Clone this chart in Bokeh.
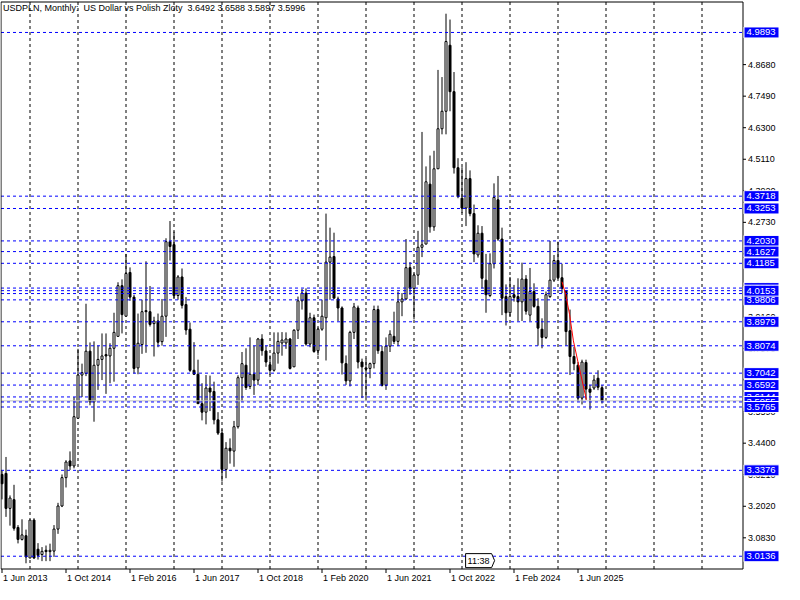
import pandas as pd
from bokeh.plotting import figure
from bokeh.models import ColumnDataSource, Range1d
from bokeh.core.properties import value
from bokeh.embed import file_html
from bokeh.resources import INLINE

symbol_title = "USDPLN, Monthly:\u00a0 US Dollar vs Polish Zloty"
first_month = "2013-06-01"
timer_text = "11:38"

opens = [3.322, 3.326, 3.194, 3.227, 3.122, 3.077, 3.091, 3.007, 3.150, 3.040,
         3.020, 3.036, 3.031, 3.033, 3.116, 3.203, 3.310, 3.373, 3.354, 3.534,
         3.697, 3.703, 3.787, 3.596, 3.734, 3.756, 3.774, 3.769, 3.798, 3.843,
         4.034, 3.919, 4.084, 3.991, 3.724, 3.812, 3.940, 3.936, 3.891, 3.901,
         3.823, 3.919, 4.200, 4.189, 3.997, 4.067, 3.963, 3.870, 3.715, 3.700,
         3.589, 3.557, 3.648, 3.635, 3.528, 3.478, 3.341, 3.421, 3.410, 3.502,
         3.687, 3.734, 3.654, 3.700, 3.678, 3.833, 3.788, 3.736, 3.715, 3.780,
         3.818, 3.818, 3.833, 3.728, 3.866, 3.977, 4.006, 3.814, 3.913, 3.789,
         3.870, 3.913, 4.123, 4.144, 3.984, 3.950, 3.740, 3.675, 3.858, 3.950,
         3.746, 3.724, 3.722, 3.740, 3.944, 3.786, 3.658, 3.806, 3.843, 3.824,
         3.973, 3.984, 4.102, 4.024, 4.074, 4.179, 4.191, 4.417, 4.256, 4.475,
         4.626, 4.692, 4.941, 4.766, 4.479, 4.364, 4.327, 4.438, 4.306, 4.150,
         4.232, 4.055, 3.997, 4.117, 4.358, 4.210, 3.993, 3.932, 4.000, 3.993,
         3.973, 4.059, 3.923, 4.012, 3.956, 3.870, 3.839, 3.993, 4.055, 4.129,
         4.064, 4.014, 3.864, 3.767, 3.734, 3.610, 3.744, 3.644, 3.648, 3.685,
         3.6492]
highs = [3.336, 3.388, 3.243, 3.283, 3.131, 3.153, 3.114, 3.150, 3.157, 3.063,
         3.048, 3.054, 3.061, 3.131, 3.215, 3.322, 3.376, 3.409, 3.614, 3.796,
         3.740, 3.966, 3.820, 3.824, 3.808, 3.854, 3.854, 3.817, 3.932, 4.047,
         4.058, 4.154, 4.103, 4.000, 3.929, 3.981, 4.126, 4.033, 3.917, 3.929,
         3.984, 4.213, 4.278, 4.238, 4.074, 4.099, 3.991, 3.895, 3.821, 3.755,
         3.666, 3.697, 3.695, 3.672, 3.557, 3.492, 3.444, 3.458, 3.524, 3.696,
         3.784, 3.798, 3.839, 3.807, 3.837, 3.851, 3.808, 3.771, 3.858, 3.858,
         3.859, 3.858, 3.837, 3.870, 3.993, 4.022, 4.024, 3.932, 3.925, 3.876,
         3.981, 4.306, 4.253, 4.234, 3.993, 3.956, 3.771, 3.864, 3.969, 3.959,
         3.759, 3.759, 3.744, 3.959, 3.959, 3.807, 3.839, 3.866, 3.936, 4.012,
         4.006, 4.210, 4.123, 4.080, 4.241, 4.614, 4.484, 4.525, 4.543, 4.848,
         4.821, 5.060, 5.038, 4.840, 4.515, 4.481, 4.500, 4.469, 4.340, 4.262,
         4.259, 4.154, 4.156, 4.420, 4.448, 4.253, 4.039, 4.067, 4.037, 4.062,
         4.121, 4.074, 4.101, 4.043, 3.987, 3.911, 4.012, 4.203, 4.150, 4.200,
         4.117, 4.018, 3.944, 3.803, 3.746, 3.755, 3.755, 3.660, 3.697, 3.715,
         3.6588]
lows = [3.228, 3.162, 3.129, 3.110, 3.062, 3.073, 2.987, 3.006, 3.003, 3.001,
        2.995, 2.995, 2.995, 3.011, 3.098, 3.199, 3.273, 3.339, 3.345, 3.534,
        3.614, 3.693, 3.583, 3.521, 3.641, 3.678, 3.626, 3.666, 3.672, 3.843,
        3.854, 3.919, 3.977, 3.703, 3.700, 3.777, 3.781, 3.880, 3.767, 3.802,
        3.808, 3.841, 4.129, 3.987, 3.981, 3.948, 3.849, 3.709, 3.697, 3.589,
        3.526, 3.511, 3.561, 3.511, 3.471, 3.295, 3.308, 3.363, 3.351, 3.495,
        3.598, 3.641, 3.644, 3.622, 3.659, 3.770, 3.728, 3.697, 3.710, 3.740,
        3.770, 3.796, 3.718, 3.728, 3.833, 3.944, 3.808, 3.802, 3.781, 3.771,
        3.864, 3.752, 3.981, 3.987, 3.901, 3.699, 3.660, 3.654, 3.833, 3.722,
        3.610, 3.610, 3.685, 3.722, 3.777, 3.654, 3.641, 3.784, 3.814, 3.806,
        3.919, 3.981, 4.000, 3.907, 4.037, 4.142, 4.191, 4.234, 4.241, 4.475,
        4.605, 4.605, 4.692, 4.457, 4.364, 4.308, 4.259, 4.296, 4.123, 4.140,
        4.024, 3.932, 3.991, 4.099, 4.203, 3.923, 3.884, 3.919, 3.974, 3.901,
        3.901, 3.925, 3.901, 3.951, 3.808, 3.798, 3.833, 3.988, 4.048, 4.059,
        4.006, 3.808, 3.697, 3.715, 3.598, 3.586, 3.604, 3.567, 3.641, 3.640,
        3.5897]
closes = [3.287, 3.194, 3.233, 3.119, 3.077, 3.094, 3.011, 3.150, 3.007, 3.017,
          3.032, 3.031, 3.036, 3.116, 3.203, 3.310, 3.369, 3.354, 3.540, 3.697,
          3.706, 3.787, 3.596, 3.734, 3.756, 3.769, 3.769, 3.798, 3.858, 4.034,
          3.925, 4.080, 3.991, 3.722, 3.817, 3.936, 3.936, 3.888, 3.901, 3.821,
          3.919, 4.200, 4.182, 3.997, 4.067, 3.960, 3.867, 3.715, 3.700, 3.589,
          3.557, 3.648, 3.633, 3.528, 3.478, 3.341, 3.421, 3.411, 3.502, 3.687,
          3.740, 3.650, 3.700, 3.678, 3.833, 3.789, 3.746, 3.715, 3.780, 3.824,
          3.829, 3.833, 3.722, 3.866, 3.977, 4.006, 3.814, 3.913, 3.786, 3.870,
          3.919, 4.123, 4.142, 3.987, 3.950, 3.743, 3.675, 3.858, 3.954, 3.746,
          3.728, 3.719, 3.740, 3.944, 3.789, 3.658, 3.806, 3.851, 3.824, 3.973,
          3.984, 4.102, 4.024, 4.074, 4.179, 4.188, 4.426, 4.256, 4.475, 4.626,
          4.692, 4.955, 4.766, 4.479, 4.370, 4.327, 4.438, 4.306, 4.154, 4.232,
          4.062, 4.000, 4.117, 4.367, 4.210, 3.987, 3.932, 3.993, 3.990, 3.973,
          4.059, 3.938, 4.012, 3.956, 3.874, 3.839, 4.000, 4.055, 4.129, 4.064,
          4.024, 3.861, 3.767, 3.740, 3.610, 3.746, 3.644, 3.632, 3.678, 3.651,
          3.5996]

# horizontal level lines, listed in the order their price tags are painted
levels = [4.9893, 4.3718, 4.3253, 4.2030, 4.1627, 4.1185, 4.0251, 4.0044,
          3.9806, 4.0153, 3.8979, 3.8074, 3.7042, 3.6592, 3.6144, 3.5955,
          3.5765, 3.3376, 3.0136]

price_ticks = [3.0830, 3.2020, 3.3210, 3.4400, 3.5590, 3.6780, 3.7970, 3.9160,
               4.0350, 4.1540, 4.2730, 4.3920, 4.5110, 4.6300, 4.7490, 4.8680]

# red trend line (bar index, price)
trend_bar = [140, 140.9, 141.9, 142.85, 144, 145, 146.1]
trend_price = [4.049, 4.002, 3.925, 3.826, 3.746, 3.678, 3.604]

timer_bar = 115.9
timer_price = 2.997

# ---------------------------------------------------------------
W, H = 784, 584
PX = 0.25                          # bars per pixel (4 px per monthly bar)
X0 = -0.375
X1 = X0 + W * PX
FL = X0 + 0.5 * PX                 # chart frame left / right (bar units)
FR = X0 + 742.5 * PX
FT, FB = 5.1042, 2.9654            # chart frame top / bottom (price units)
PY = (FT - FB) / 567.0
Y1 = FT + 1.5 * PY
Y0 = Y1 - H * PY
FONT = value("Liberation Sans")
FS = "9px"

n = len(opens)
months = pd.date_range(first_month, periods=n, freq="MS")
idx = list(range(n))
bull = [c >= o for o, c in zip(opens, closes)]
src = ColumnDataSource(dict(
    x=idx, open=opens, high=highs, low=lows, close=closes,
    top=[max(o, c) for o, c in zip(opens, closes)],
    bottom=[min(o, c) for o, c in zip(opens, closes)],
    fill=["white" if b else "black" for b in bull],
))

p = figure(width=W, height=H, output_backend="svg", toolbar_location=None,
           x_range=Range1d(X0, X1), y_range=Range1d(Y0, Y1),
           x_axis_location=None, y_axis_location=None, min_border=0)
p.background_fill_color = "white"
p.border_fill_color = "white"
p.outline_line_color = None
p.grid.visible = False

# vertical grid at each January
jan_bars = [k for k in range(0, int(FR) + 1) if (months[0].month - 1 + k) % 12 == 0]
p.segment(x0=jan_bars, y0=FB, x1=jan_bars, y1=FT, line_color="black",
          line_dash="3 3", line_width=1)

# candles
p.segment(x0="x", y0="high", x1="x", y1="low", source=src, line_color="black", line_width=1)
p.vbar(x="x", width=0.5, top="top", bottom="bottom", source=src,
       fill_color="fill", line_color="black", line_width=1)

# bid line
p.segment(x0=FL, x1=FR, y0=closes[-1], y1=closes[-1], line_color="#c0c0c0", line_width=1)

# level lines
p.segment(x0=FL, x1=FR, y0=levels, y1=levels, line_color="#0000ff",
          line_dash="3 3", line_width=1)

# trend line
p.line(trend_bar, trend_price, line_color="#ff0000", line_width=1)

# chart frame
p.quad(left=[FL], right=[FR], bottom=[FB], top=[FT], fill_color=None,
       line_color="black", line_width=1)

# right price scale
p.segment(x0=FR, x1=FR + 3 * PX, y0=price_ticks, y1=price_ticks, line_color="black")
p.text(x=FR + 5 * PX, y=price_ticks, text=[f"{t:.4f}" for t in price_ticks],
       text_align="left", text_baseline="middle", text_color="black",
       text_font=FONT, text_font_size=FS)

# price tags of levels
for lv in levels:
    p.rect(x=FR + 18.5 * PX, y=lv, width=35, height=11, width_units="screen",
           height_units="screen", fill_color="#0000ff", line_color="white", line_width=1)
    p.text(x=FR + 3.5 * PX, y=lv, text=[f"{lv:.4f}"], text_align="left",
           text_baseline="middle", text_color="white", text_font=FONT, text_font_size="9.5px")

# bottom date scale
label_bars = list(range(0, n, 16))
p.segment(x0=label_bars, x1=label_bars, y0=FB, y1=FB - 4 * PY, line_color="black")
p.text(x=[k + 1 * PX for k in label_bars], y=FB - 4 * PY,
       text=["1 " + months[k].strftime("%b %Y") for k in label_bars],
       text_align="left", text_baseline="top", text_color="black",
       text_font=FONT, text_font_size=FS)

# header
header = (f"{symbol_title}\u00a0 {opens[-1]:.4f} {highs[-1]:.4f} "
          f"{lows[-1]:.4f} {closes[-1]:.4f}")
p.text(x=FL + 2 * PX, y=FT - 1 * PY, text=[header], text_align="left",
       text_baseline="top", text_color="black", text_font=FONT, text_font_size=FS)

# timer box
tl = timer_bar
tr = timer_bar + 26 * PX
tip = timer_bar + 29 * PX
p.patch(x=[tl, tr, tip, tr, tl], y=[timer_price + 7 * PY, timer_price + 7 * PY, timer_price,
        timer_price - 7 * PY, timer_price - 7 * PY],
        fill_color="white", line_color="black", line_width=1)
p.text(x=tl + 2 * PX, y=timer_price, text=[timer_text], text_align="left",
       text_baseline="middle", text_color="black", text_font=FONT, text_font_size=FS)

open("out.html", "w").write(file_html(p, INLINE))
